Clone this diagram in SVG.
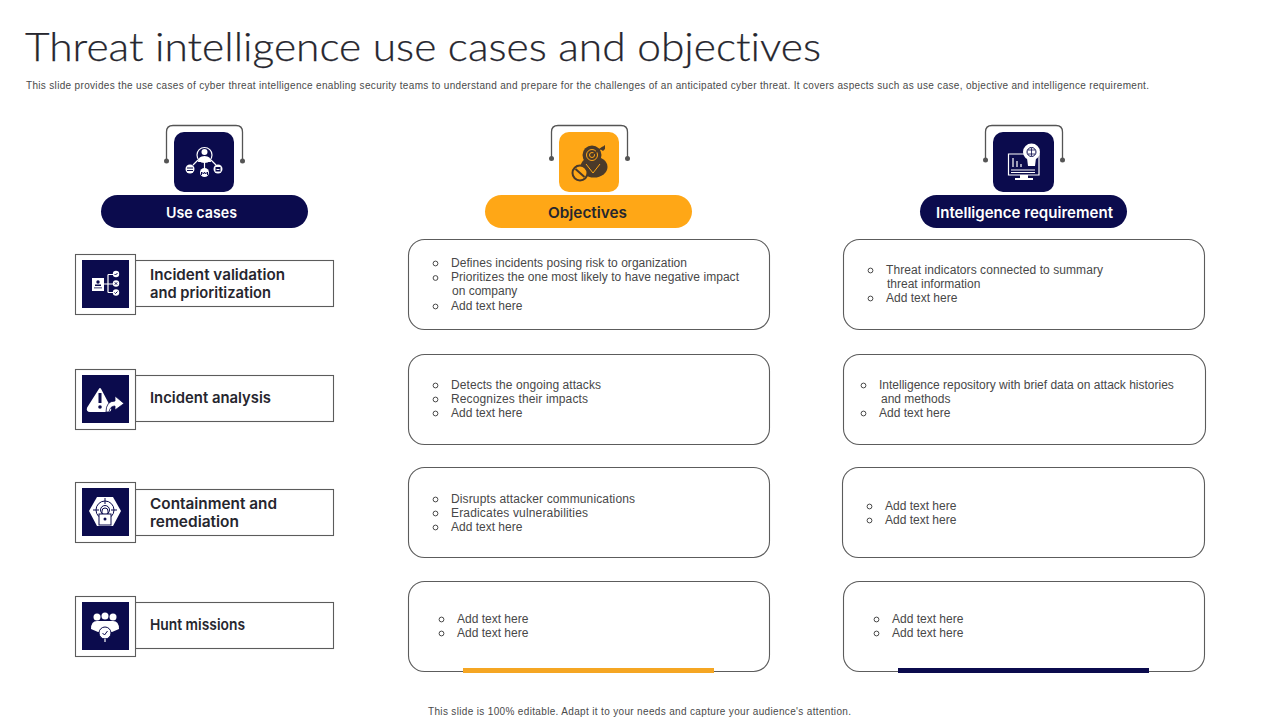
<svg xmlns="http://www.w3.org/2000/svg" width="1280" height="720" viewBox="0 0 1280 720">
<style>
text{font-family:"Liberation Sans",Arial,sans-serif}
.title{font-family:"Lato","Noto Sans",sans-serif;font-size:40px;fill:#26262e;stroke:#26262e;stroke-width:.25;font-weight:300;font-variant-ligatures:none}
.sub{font-size:10px;fill:#4a4a4a}
.body{font-size:12px;fill:#484848}
.bul{fill:none;stroke:#484848;stroke-width:1}
.box{fill:#fff;stroke:#5c5c5c;stroke-width:1.1}
.head{font-family:"Inter","Open Sans",sans-serif;font-size:15px;font-weight:600}
.lab{font-family:"Inter","Open Sans",sans-serif;font-size:15px;font-weight:600;fill:#26262e}
.cap{fill:none;stroke:#555;stroke-width:1.3}
.dot{fill:#555}
.ln{fill:none;stroke:#fff;stroke-width:1.2}
.w{fill:#fff}
.n{fill:#0b0b4d}
.nl{fill:none;stroke:#0b0b4d;stroke-width:1}
.d{fill:#4a3a2a}
.y{fill:none;stroke:#ffa716;stroke-width:1}
</style>
<rect width="1280" height="720" fill="#fff"/>
<text class="title" x="25" y="61" textLength="796" lengthAdjust="spacingAndGlyphs">Threat intelligence use cases and objectives</text>
<text class="sub" x="26" y="89" textLength="1123" lengthAdjust="spacing">This slide provides the use cases of cyber threat intelligence enabling security teams to understand and prepare for the challenges of an anticipated cyber threat. It covers aspects such as use case, objective and intelligence requirement.</text>

<g id="connectors">
<path class="cap" d="M166.500 161V132Q166.500 125.500 173 125.500H236Q242.500 125.500 242.500 132V161"/>
<circle class="dot" cx="166.500" cy="161" r="2.500"/><circle class="dot" cx="242.500" cy="161" r="2.500"/>
<path class="cap" d="M551.500 158V132Q551.500 125.500 558 125.500H621Q627.500 125.500 627.500 132V158"/>
<circle class="dot" cx="551.500" cy="158.500" r="2.500"/><circle class="dot" cx="627.500" cy="158.500" r="2.500"/>
<path class="cap" d="M985.500 160V132Q985.500 125.500 992 125.500H1056Q1062.500 125.500 1062.500 132V160"/>
<circle class="dot" cx="985.500" cy="160" r="2.500"/><circle class="dot" cx="1062.500" cy="160" r="2.500"/>
</g>

<g id="header-use-cases">
<rect class="n" x="174" y="132" width="60" height="60" rx="10"/>
<circle class="ln" cx="204.500" cy="155" r="7.500" stroke-width="1.500"/><circle class="w" cx="204.500" cy="152" r="3"/><path class="w" d="M198 162q0-6 6.500-6t6.500 6z"/>
<path class="ln" d="M204.500 162V170M198 160L193 165M211 160L216 165"/>
<circle class="w" cx="190" cy="169" r="4.500"/><circle class="w" cx="204.500" cy="172.500" r="4.500"/><circle class="w" cx="218" cy="169" r="4.500"/>
<rect class="n" x="187" y="167.500" width="6" height="1"/><rect class="n" x="187" y="170" width="6" height="1"/><path class="nl" d="M201.500 175v-3l2 2 1-2 1 2 2-2v3" stroke-width=".8"/><rect class="n" x="215.500" y="167" width="5" height="4.500"/><rect class="w" x="216.500" y="169" width="3" height="1"/>
<rect class="n" x="101" y="195" width="207" height="33" rx="16.500"/>
<text class="head" x="166" y="218" fill="#fff" textLength="71" lengthAdjust="spacingAndGlyphs">Use cases</text>
</g>
<g id="header-objectives">
<rect x="559" y="132" width="60" height="60" rx="10" fill="#ffa716"/>
<circle class="d" cx="592" cy="155" r="9.500"/><ellipse class="d" cx="594" cy="167" rx="13.500" ry="10.500"/>
<circle class="y" cx="592" cy="155" r="5.500"/><circle class="y" cx="592" cy="155" r="2.500"/>
<path class="y" d="M586 164l7 9 7-9"/>
<path d="M592 155l11-8" stroke="#4a3a2a" stroke-width="1.500"/><path class="d" d="M600 149l5-4 0 4-2 2z"/>
<circle cx="580" cy="173" r="7.500" fill="#ffa716" stroke="#4a3a2a" stroke-width="2"/><path d="M575.500 169l9 8" stroke="#4a3a2a" stroke-width="2"/>
<rect x="485" y="195" width="207" height="33" rx="16.500" fill="#ffa716"/>
<text class="head" x="548" y="218" fill="#26262e" textLength="79" lengthAdjust="spacingAndGlyphs">Objectives</text>
</g>
<g id="header-intelligence">
<rect class="n" x="993" y="132" width="61" height="60" rx="10"/>
<path class="ln" d="M1008.500 154H1039V175H1008.500z"/>
<path class="ln" d="M1013 158v9M1017 161v6M1021 164v3M1011 170h24M1011 172.500h24" stroke-width="1"/>
<path class="w" d="M1020 175h8v3h5v2h-18v-2h5z"/>
<circle class="w" cx="1031.500" cy="152" r="8.500"/><path class="w" d="M1027 158h9l-1 8h-7z"/>
<circle class="nl" cx="1031.500" cy="152" r="4.500"/><path d="M1031.500 148v8M1028 150h7M1028 154h7" stroke="#0b0b4d" stroke-width=".8"/>
<rect class="n" x="920" y="195" width="207" height="33" rx="16.500"/>
<text class="head" x="936" y="218" fill="#fff" textLength="177" lengthAdjust="spacingAndGlyphs">Intelligence requirement</text>
</g>

<g id="use-case-1">
<rect class="box" x="135.500" y="260.500" width="198" height="46"/>
<rect class="box" x="75.500" y="254.500" width="60" height="60"/>
<rect class="n" x="82" y="260" width="47" height="48"/>
<rect class="w" x="92" y="278" width="12" height="13"/><circle class="n" cx="98" cy="282" r="1.700"/><rect class="n" x="95" y="284.500" width="6" height="1.500"/><rect class="n" x="94" y="287.500" width="8" height=".8"/>
<path class="ln" d="M104 284h4M108 274.500V292.500M108 274.500h5M108 284h5M108 292.500h5" stroke-width=".8"/>
<circle class="w" cx="116" cy="274" r="3.200"/><circle class="w" cx="116" cy="283.500" r="3.200"/><circle class="w" cx="116" cy="292.500" r="3.200"/>
<path class="nl" d="M114.500 274l1 1 2-2M114.500 292.500l1 1 2-2M114.800 282.300l2.400 2.400M117.200 282.300l-2.400 2.400"/>
<text class="lab"><tspan x="150" y="280" textLength="135" lengthAdjust="spacingAndGlyphs">Incident validation</tspan><tspan x="150" y="298" textLength="121" lengthAdjust="spacingAndGlyphs">and prioritization</tspan></text>
</g>
<g id="use-case-2">
<rect class="box" x="135.500" y="375.500" width="198" height="46"/>
<rect class="box" x="75.500" y="369.500" width="60" height="60"/>
<rect class="n" x="82" y="375" width="47" height="48"/>
<path class="w" d="M100 389L110 408Q111 411 108 411H90Q87 411 88 408z" stroke="#fff" stroke-width="2" stroke-linejoin="round"/>
<rect class="n" x="98.500" y="393" width="3" height="10"/><circle class="n" cx="100" cy="407" r="1.800"/>
<path class="w" d="M106 412Q106 401 115 401V396L124 403.500L115 410V406Q110 406 109 412z" stroke="#0b0b4d" stroke-width=".8"/>
<text class="lab" x="150" y="403" textLength="121" lengthAdjust="spacingAndGlyphs">Incident analysis</text>
</g>
<g id="use-case-3">
<rect class="box" x="135.500" y="489.500" width="198" height="46"/>
<rect class="box" x="75.500" y="482.500" width="60" height="60"/>
<rect class="n" x="82" y="488" width="47" height="48"/>
<path class="w" d="M97 497H113L121 511L113 526H97L89 511z"/>
<circle class="nl" cx="105" cy="510" r="9"/><circle class="nl" cx="105" cy="510" r="4.500"/><path class="nl" d="M105 498v6M93 510h6M111 510h6"/>
<rect x="99" y="514" width="12" height="11" fill="#fff" stroke="#0b0b4d"/><path class="nl" d="M102 514v-3a3 3 0 0 1 6 0v3"/><circle class="n" cx="105" cy="519" r="1.500"/>
<text class="lab"><tspan x="150" y="509" textLength="127" lengthAdjust="spacingAndGlyphs">Containment and</tspan><tspan x="150" y="527" textLength="89" lengthAdjust="spacingAndGlyphs">remediation</tspan></text>
</g>
<g id="use-case-4">
<rect class="box" x="135.500" y="602.500" width="198" height="46"/>
<rect class="box" x="75.500" y="596.500" width="60" height="60"/>
<rect class="n" x="82" y="602" width="47" height="48"/>
<circle class="w" cx="97" cy="617" r="3.500"/><circle class="w" cx="105" cy="616" r="3.500"/><circle class="w" cx="113" cy="617" r="3.500"/>
<path class="w" d="M91 629Q91 621 97 621H113Q119 621 119 629L112 632H98z"/>
<circle cx="105" cy="633" r="6" fill="#fff" stroke="#0b0b4d"/><path class="nl" d="M102.500 633l2 2 3-4"/>
<path class="ln" d="M105 639v3"/>
<text class="lab" x="150" y="630" textLength="95" lengthAdjust="spacingAndGlyphs">Hunt missions</text>
</g>

<g id="objective-1">
<rect class="box" x="408.500" y="239.500" width="361" height="90" rx="16"/>
<circle class="bul" cx="435.500" cy="263.500" r="2.400"/><circle class="bul" cx="435.500" cy="278" r="2.400"/><circle class="bul" cx="435.500" cy="306.500" r="2.400"/>
<text class="body"><tspan x="451" y="267" textLength="236">Defines incidents posing risk to organization</tspan><tspan x="451" y="281" textLength="288">Prioritizes the one most likely to have negative impact</tspan><tspan x="452" y="295">on company</tspan><tspan x="451" y="310">Add text here</tspan></text>
</g>
<g id="objective-2">
<rect class="box" x="408.500" y="354.500" width="361" height="90" rx="16"/>
<circle class="bul" cx="435.500" cy="385.500" r="2.400"/><circle class="bul" cx="435.500" cy="399.500" r="2.400"/><circle class="bul" cx="435.500" cy="413.500" r="2.400"/>
<text class="body"><tspan x="451" y="389" textLength="150">Detects the ongoing attacks</tspan><tspan x="451" y="403" textLength="137">Recognizes their impacts</tspan><tspan x="451" y="417">Add text here</tspan></text>
</g>
<g id="objective-3">
<rect class="box" x="408.500" y="467.500" width="361" height="90" rx="16"/>
<circle class="bul" cx="435.500" cy="499.500" r="2.400"/><circle class="bul" cx="435.500" cy="513.500" r="2.400"/><circle class="bul" cx="435.500" cy="527.500" r="2.400"/>
<text class="body"><tspan x="451" y="503" textLength="184">Disrupts attacker communications</tspan><tspan x="451" y="517" textLength="137">Eradicates vulnerabilities</tspan><tspan x="451" y="531">Add text here</tspan></text>
</g>
<g id="objective-4">
<rect class="box" x="408.500" y="581.500" width="361" height="90" rx="16"/>
<rect x="463" y="668" width="251" height="5" fill="#f5a623"/>
<circle class="bul" cx="441.500" cy="619.500" r="2.400"/><circle class="bul" cx="441.500" cy="633.500" r="2.400"/>
<text class="body"><tspan x="457" y="623">Add text here</tspan><tspan x="457" y="637">Add text here</tspan></text>
</g>

<g id="requirement-1">
<rect class="box" x="843.500" y="239.500" width="361" height="90" rx="16"/>
<circle class="bul" cx="870.500" cy="270.500" r="2.400"/><circle class="bul" cx="870.500" cy="298.500" r="2.400"/>
<text class="body"><tspan x="886" y="274" textLength="217">Threat indicators connected to summary</tspan><tspan x="887" y="288">threat information</tspan><tspan x="886" y="302">Add text here</tspan></text>
</g>
<g id="requirement-2">
<rect class="box" x="843.500" y="354.500" width="362" height="90" rx="16"/>
<circle class="bul" cx="863.500" cy="385.500" r="2.400"/><circle class="bul" cx="863.500" cy="413.500" r="2.400"/>
<text class="body"><tspan x="879" y="389">Intelligence repository with brief data on attack histories</tspan><tspan x="881" y="403">and methods</tspan><tspan x="879" y="417">Add text here</tspan></text>
</g>
<g id="requirement-3">
<rect class="box" x="842.500" y="467.500" width="362" height="90" rx="16"/>
<circle class="bul" cx="869.500" cy="506.500" r="2.400"/><circle class="bul" cx="869.500" cy="520.500" r="2.400"/>
<text class="body"><tspan x="885" y="510">Add text here</tspan><tspan x="885" y="524">Add text here</tspan></text>
</g>
<g id="requirement-4">
<rect class="box" x="843.500" y="581.500" width="361" height="90" rx="16"/>
<rect x="898" y="668" width="251" height="5" fill="#0b0b4d"/>
<circle class="bul" cx="876.500" cy="619.500" r="2.400"/><circle class="bul" cx="876.500" cy="633.500" r="2.400"/>
<text class="body"><tspan x="892" y="623">Add text here</tspan><tspan x="892" y="637">Add text here</tspan></text>
</g>
<text x="428" y="715" font-size="10" fill="#4a4a4a" textLength="423" lengthAdjust="spacing">This slide is 100% editable.  Adapt it to your needs and capture your audience's attention.</text>
</svg>
